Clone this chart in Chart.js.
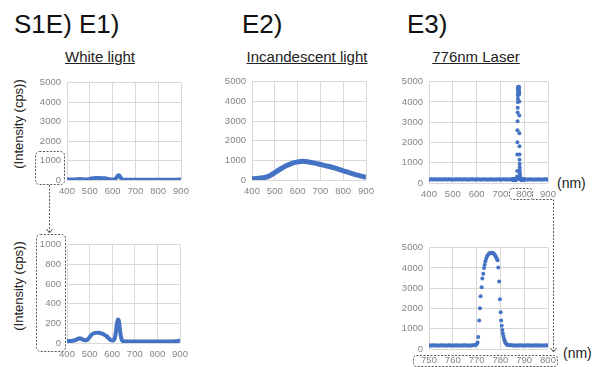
<!DOCTYPE html>
<html>
<head>
<meta charset="utf-8">
<script src="https://cdn.jsdelivr.net/npm/chart.js@4.4.1/dist/chart.umd.min.js"></script>
<style>
  body { margin: 0; background: #fff; }
  #page { position: relative; width: 597px; height: 367px; overflow: hidden; background: #fff;
          font-family: "Liberation Sans", Arial, sans-serif; color: #1a1a1a; }
  canvas { position: absolute; }
  .big { position: absolute; font-size: 26px; line-height: 26px; white-space: nowrap; color: #111; }
  .ttl { position: absolute; font-size: 15px; line-height: 15px; white-space: nowrap; text-decoration: underline;
         transform: translateX(-50%); color: #222; }
  .ylab { position: absolute; font-size: 13px; line-height: 13px; white-space: nowrap; color: #222;
          transform: translate(-50%, -50%) rotate(-90deg); }
  .unit { position: absolute; font-size: 14px; line-height: 14px; white-space: nowrap; color: #222;
          transform: translateY(-50%); }
  svg { position: absolute; left: 0; top: 0; pointer-events: none; }
</style>
</head>
<body>
<div id="page">
  <div class="big" style="left:14px;top:11px">S1E) E1)</div>
  <div class="big" style="left:242px;top:11px">E2)</div>
  <div class="big" style="left:407px;top:11px">E3)</div>

  <div class="ttl" style="left:100px;top:49px">White light</div>
  <div class="ttl" style="left:307px;top:49px">Incandescent light</div>
  <div class="ttl" style="left:476px;top:49px">776nm Laser</div>

  <div class="ylab" style="left:18px;top:124px">(Intensity (cps))</div>
  <div class="ylab" style="left:18px;top:286px">(Intensity (cps))</div>
  <div class="unit" style="left:557px;top:183px">(nm)</div>
  <div class="unit" style="left:563px;top:353px">(nm)</div>

  <canvas id="c_white"></canvas>
  <canvas id="c_inc"></canvas>
  <canvas id="c_laser"></canvas>
  <canvas id="c_white_zoom"></canvas>
  <canvas id="c_laser_zoom"></canvas>

  <svg width="597" height="367">
    <g fill="none" stroke="#595959" stroke-width="1" stroke-dasharray="2 1.5">
      <rect x="35.5" y="151.5" width="29" height="33" rx="4"/>
      <path d="M49.5 185 V232"/>
      <rect x="36.5" y="234.5" width="29" height="117" rx="4"/>
      <rect x="509.5" y="188.5" width="23" height="11" rx="3"/>
      <path d="M532.5 199.5 H553.5 V351"/>
      <rect x="413.5" y="355.5" width="144" height="11" rx="3"/>
    </g>
    <g fill="none" stroke="#595959" stroke-width="1">
      <path d="M46.5 229 L49.5 233 L52.5 229"/>
      <path d="M550.5 348 L553.5 352 L556.5 348"/>
    </g>
  </svg>
</div>
<script>
// E1 white light spectrum
var whiteNm  = [400,410,420,430,440,450,458,466,475,485,495,505,515,525,535,545,555,565,575,585,595,603,610,615,620,625,629,633,638,643,650,670,700,750,800,850,880,890,900];
var whiteCps = [20,20,22,25,32,45,48,40,30,28,45,75,95,103,105,102,95,85,70,45,28,25,40,90,180,240,230,160,75,30,18,15,15,15,15,15,17,20,28];

// E2 incandescent spectrum
var incNm  = [400,430,460,480,500,525,550,575,600,625,650,675,700,725,750,775,800,825,850,875,900];
var incCps = [60,90,140,230,380,560,720,850,920,960,920,860,790,720,650,570,470,380,290,210,130];

// E3 laser, peak region
var peakNm  = [770.0,770.4,770.7,771.1,771.4,771.7,772.1,772.4,772.8,773.1,773.4,773.7,774.0,774.3,774.6,774.9,775.2,775.5,775.8,776.1,776.4,776.7,777.0,777.3,777.6,777.9,778.2,778.5,778.8,779.1,779.5,779.8,780.1,780.3,780.55,780.8,781.0,781.25,781.5,781.75,782.0,782.3,782.6,782.9,783.2];
var peakCps = [240,320,590,1410,2010,2600,3050,3480,3720,4000,4160,4330,4450,4550,4620,4670,4700,4720,4740,4750,4750,4740,4720,4690,4650,4600,4530,4450,4380,4020,3330,2450,1810,1410,1150,940,780,640,520,420,340,280,240,215,200];

// E3 laser, baseline (sampled from start with fixed step)
var baseWideLeft  = {start: 400, step: 5, cps: [178,176,180,175,177,179,174,176,178,181,177,175,176,179,178,174,177,180,176,175,178,177,175,179,176,178,180,175,177,176,179,174,176,178,177,175,180,176,178,177,175,179,176,174,178,177,180,176,175,178,177,176,179,175,178,176,174,177,179,176,178,175,177,180,176,178,175,177,176,179]};
var baseNearLeft  = {start: 750, step: 0.5, cps: [176,178,175,177,179,176,174,177,178,176,175,179,177,176,178,175,177,180,176,178,177,175,176,179,178,176,177,175,178,176,179,177,175,176,178,177,176,179,180,185]};
var baseNearRight = {start: 783.5, step: 0.5, cps: [192,186,182,180,178,177,176,178,175,177,179,176,175,178,177,176,179,175,177,178,176,175,177,179,176,178,175,177,176,178,177,175,179,176]};
var baseWideRight = {start: 805, step: 5, cps: [177,175,178,176,179,175,177,176,178,174,177,179,176,175,178,177,176,179,175,178]};

var blue = '#4472C4';
var tickGrey = '#858585';
var gridGrey = '#d9d9d9';
var fam = '"Liberation Sans", Arial, sans-serif';

function pairs(xs, ys){
  var out = [];
  for(var i = 0; i < xs.length; i++){
    out.push({x: xs[i], y: ys[i]});
  }
  return out;
}

function basePairs(seg){
  var out = [];
  for(var i = 0; i < seg.cps.length; i++){
    out.push({x: seg.start + i * seg.step, y: seg.cps[i]});
  }
  return out;
}

function lineSet(xs, ys, w){
  return {data: pairs(xs, ys), showLine: true, borderColor: blue, borderWidth: w,
          pointRadius: 0, tension: 0.4, cubicInterpolationMode: 'monotone', fill: false};
}

function dotSet(pts){
  return {data: pts, showLine: false, pointRadius: 2, pointBackgroundColor: blue,
          pointBorderWidth: 0, borderColor: blue};
}

function plain(v){
  return String(v);
}

function makeChart(id, plot, xr, yr, datasets){
  var yw = 40, xh = 22, padT = 8, padR = 14;
  var cv = document.getElementById(id);
  var w = plot.r - plot.l + yw + padR;
  var h = plot.b - plot.t + padT + xh;
  cv.width = w; cv.height = h;
  cv.style.width = w + 'px'; cv.style.height = h + 'px';
  cv.style.left = (plot.l - yw) + 'px';
  cv.style.top = (plot.t - padT) + 'px';
  return new Chart(cv, {
    type: 'scatter',
    data: {datasets: datasets},
    options: {
      responsive: false,
      animation: false,
      devicePixelRatio: 1,
      layout: {padding: {top: padT, right: padR, left: 0, bottom: 0}},
      plugins: {legend: {display: false}, tooltip: {enabled: false}},
      scales: {
        x: {
          type: 'linear', min: xr[0], max: xr[1],
          afterFit: function(s){ s.height = xh; },
          ticks: {stepSize: xr[2], color: tickGrey, font: {size: 9.5, family: fam}, padding: 6, maxRotation: 0, autoSkip: false, callback: plain},
          grid: {color: gridGrey, drawTicks: false},
          border: {display: false}
        },
        y: {
          min: yr[0], max: yr[1],
          afterFit: function(s){ s.width = yw; },
          ticks: {stepSize: yr[2], color: tickGrey, font: {size: 9.5, family: fam}, padding: 6, callback: plain},
          grid: {color: gridGrey, drawTicks: false},
          border: {display: false}
        }
      }
    }
  });
}

var laserAll = basePairs(baseWideLeft).concat(basePairs(baseNearLeft), pairs(peakNm, peakCps), basePairs(baseNearRight), basePairs(baseWideRight));

makeChart('c_white', {l: 67, r: 181, t: 79, b: 180}, [400, 900, 100], [0, 5000, 1000], [lineSet(whiteNm, whiteCps, 4)]);
makeChart('c_inc', {l: 252, r: 366, t: 78, b: 180}, [400, 900, 100], [0, 5000, 1000], [lineSet(incNm, incCps, 5)]);
makeChart('c_laser', {l: 429, r: 548, t: 78, b: 183}, [400, 900, 100], [0, 5000, 1000], [dotSet(laserAll)]);
makeChart('c_white_zoom', {l: 67, r: 180, t: 241, b: 343}, [400, 900, 100], [0, 1000, 200], [lineSet(whiteNm, whiteCps, 4)]);
makeChart('c_laser_zoom', {l: 429, r: 548, t: 244, b: 349}, [750, 800, 10], [0, 5000, 1000], [dotSet(laserAll)]);
</script>
</body>
</html>
